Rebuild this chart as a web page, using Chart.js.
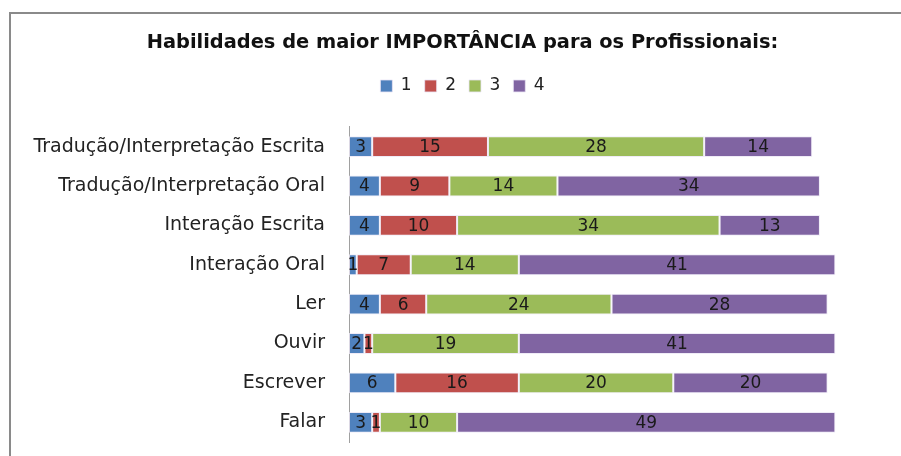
<!DOCTYPE html>
<html>
<head>
<meta charset="utf-8">
<script src="https://cdn.jsdelivr.net/npm/chart.js@4"></script>
<style>
  html, body { margin: 0; padding: 0; background: #fff; }
  #wrap { position: relative; width: 901px; height: 456px; overflow: hidden; }
  #frame {
    position: absolute; left: 9px; top: 12px; width: 1000px; height: 1000px;
    border-left: 2px solid #8a8a8a; border-top: 2px solid #8a8a8a;
    box-sizing: border-box;
  }
  #box { position: absolute; left: 0; top: 0; width: 901px; height: 456px; }
</style>
</head>
<body>
<div id="wrap">
  <div id="frame"></div>
  <div id="box"><canvas id="chart"></canvas></div>
</div>
<script>
/** Habilidades - respostas por nível de importância **/
const categorias = [
  'Tradução/Interpretação Escrita',
  'Tradução/Interpretação Oral',
  'Interação Escrita',
  'Interação Oral',
  'Ler',
  'Ouvir',
  'Escrever',
  'Falar'
];

const nivel1 = [3, 4, 4, 1, 4, 2, 6, 3];
const nivel2 = [15, 9, 10, 7, 6, 1, 16, 1];
const nivel3 = [28, 14, 34, 14, 24, 19, 20, 10];
const nivel4 = [14, 34, 13, 41, 28, 41, 20, 49];

const cores = ['#4F81BD', '#C0504D', '#9BBB59', '#8064A2'];

const fonte = "'DejaVu Sans', sans-serif";

// números dentro das barras
const rotulos = {
  id: 'rotulos',
  afterDatasetsDraw(chart) {
    const ctx = chart.ctx;
    ctx.save();
    ctx.font = '17px ' + fonte;
    ctx.fillStyle = '#1a1a1a';
    ctx.textAlign = 'center';
    ctx.textBaseline = 'middle';
    chart.data.datasets.forEach((ds, i) => {
      chart.getDatasetMeta(i).data.forEach((bar, j) => {
        const x = (bar.x + bar.base) / 2;
        ctx.fillText(ds.data[j], x, bar.y + 1);
      });
    });
    ctx.restore();
  }
};

// espaço entre a legenda e as barras
const folgaLegenda = {
  id: 'folgaLegenda',
  beforeInit(chart) {
    const fit = chart.legend.fit;
    chart.legend.fit = function () {
      fit.bind(chart.legend)();
      this.height += 22.5;
    };
  }
};

const data = {
  labels: categorias,
  datasets: [
    { label: '1', data: nivel1, backgroundColor: cores[0] },
    { label: '2', data: nivel2, backgroundColor: cores[1] },
    { label: '3', data: nivel3, backgroundColor: cores[2] },
    { label: '4', data: nivel4, backgroundColor: cores[3] }
  ].map(d => Object.assign(d, {
    borderColor: 'rgba(235,230,245,0.8)',
    borderWidth: 1,
    borderSkipped: false,
    barPercentage: 0.53,
    categoryPercentage: 1
  }))
};

const config = {
  type: 'bar',
  data: data,
  options: {
    indexAxis: 'y',
    responsive: true,
    maintainAspectRatio: false,
    animation: false,
    layout: { padding: { left: 24, right: 0, top: 0, bottom: 14 } },
    plugins: {
      title: {
        display: true,
        text: 'Habilidades de maior IMPORTÂNCIA para os Profissionais:',
        color: '#111',
        font: { family: fonte, size: 19.4, weight: 'bold' },
        padding: { top: 31.4, bottom: 9.8 }
      },
      legend: {
        display: true,
        labels: {
          boxWidth: 12,
          boxHeight: 12,
          padding: 13,
          color: '#222',
          font: { family: fonte, size: 17 }
        }
      },
      tooltip: { enabled: false }
    },
    scales: {
      x: {
        display: false,
        stacked: true,
        min: 0,
        max: 71.5
      },
      y: {
        stacked: true,
        // marcas invisíveis só para afastar os nomes do eixo
        grid: {
          display: true,
          drawOnChartArea: false,
          drawTicks: true,
          tickLength: 22,
          color: 'rgba(0,0,0,0)',
          tickColor: 'rgba(0,0,0,0)'
        },
        border: { display: true, color: '#a0a0a0', width: 1 },
        ticks: {
          color: '#222',
          padding: 2,
          font: { family: fonte, size: 19 }
        },
        afterFit(scale) { scale.width = 325; }
      }
    }
  },
  plugins: [rotulos, folgaLegenda]
};

const grafico = new Chart(document.getElementById('chart'), config);
</script>
</body>
</html>
